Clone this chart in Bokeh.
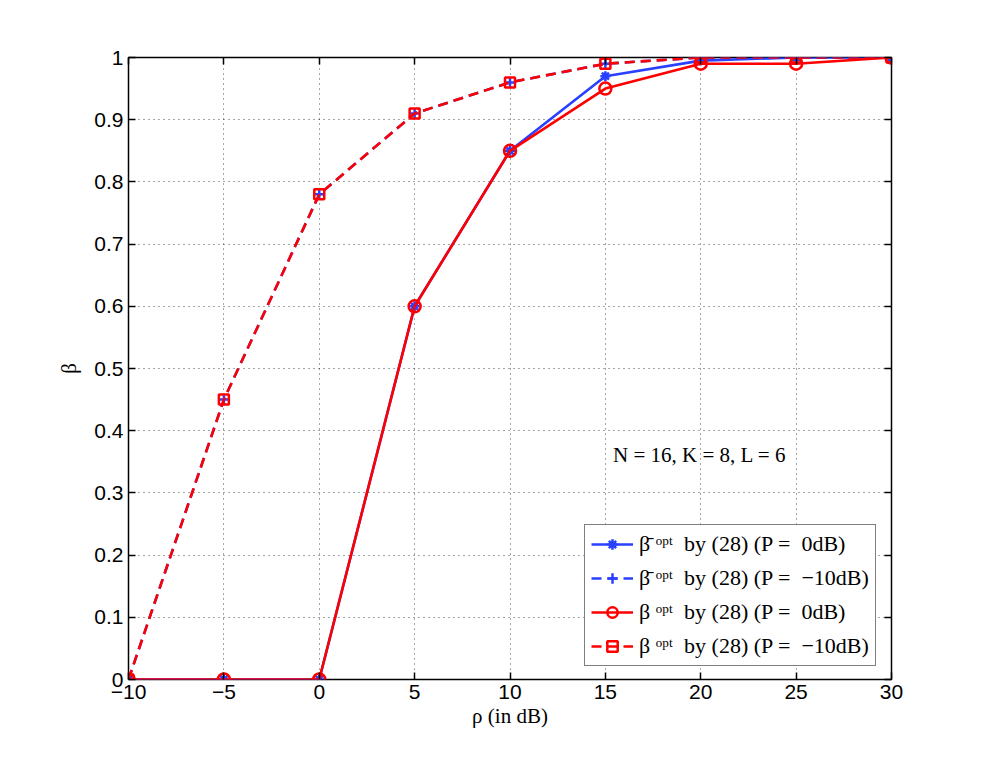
from bokeh.plotting import figure
from bokeh.models import (FixedTicker, LinearAxis, Legend, LegendItem, Label, Range1d)
from bokeh.embed import file_html
from bokeh.resources import INLINE

rho = [-10, -5, 0, 5, 10, 15, 20, 25, 30]
bar_beta_0dB = [0, 0, 0, 0.60, 0.85, 0.97, 0.995, 1.0, 1.0]
bar_beta_m10dB = [0, 0.45, 0.78, 0.91, 0.96, 0.99, 1.0, 1.0, 1.0]
beta_0dB = [0, 0, 0, 0.60, 0.85, 0.95, 0.99, 0.99, 1.0]
beta_m10dB = [0, 0.45, 0.78, 0.91, 0.96, 0.99, 1.0, 1.0, 1.0]

x_ticks = [-10, -5, 0, 5, 10, 15, 20, 25, 30]
x_tick_labels = {-10: "\u221210", -5: "\u22125", 0: "0", 5: "5", 10: "10",
                 15: "15", 20: "20", 25: "25", 30: "30"}
y_ticks = [0, 0.1, 0.2, 0.3, 0.4, 0.5, 0.6, 0.7, 0.8, 0.9, 1.0]
y_tick_labels = {0: "0", 0.1: "0.1", 0.2: "0.2", 0.3: "0.3", 0.4: "0.4", 0.5: "0.5",
                 0.6: "0.6", 0.7: "0.7", 0.8: "0.8", 0.9: "0.9", 1.0: "1"}

NB = "\u00a0"
SUP = "\u1d52\u1d56\u1d57"
legend_labels = [
    "\u03b2\u0304" + NB + SUP + NB + " by (28) (P =" + NB + NB + "0dB)",
    "\u03b2\u0304" + NB + SUP + NB + " by (28) (P =" + NB + NB + "\u221210dB)",
    "\u03b2" + NB + SUP + NB + " by (28) (P =" + NB + NB + "0dB)",
    "\u03b2" + NB + SUP + NB + " by (28) (P =" + NB + NB + "\u221210dB)",
]

BLUE = "#2a40ff"
RED = "#ff0000"
SANS = "Liberation Sans"
SERIF = "Liberation Serif"

p = figure(width=980, height=760, output_backend="svg", toolbar_location=None,
           x_range=Range1d(-10, 30), y_range=Range1d(0, 1),
           min_border_left=128, min_border_top=57, min_border_right=89, min_border_bottom=81)
p.background_fill_color = "white"
p.border_fill_color = "white"
p.outline_line_color = "black"
p.outline_line_width = 1.5

for ax in p.xaxis:
    ax.ticker = FixedTicker(ticks=x_ticks)
    ax.major_label_overrides = x_tick_labels
for ax in p.yaxis:
    ax.ticker = FixedTicker(ticks=y_ticks)
    ax.major_label_overrides = y_tick_labels

p.xaxis.axis_label = "\u03c1 (in dB)"
p.yaxis.axis_label = "\u03b2"
for ax in list(p.xaxis) + list(p.yaxis):
    ax.axis_line_color = None
    ax.major_tick_in = 7
    ax.major_tick_out = 0
    ax.major_tick_line_width = 1.5
    ax.minor_tick_line_color = None
    ax.major_label_text_font = SANS
    ax.major_label_text_font_size = "21px"
    ax.major_label_text_color = "black"
    ax.axis_label_text_font = SERIF
    ax.axis_label_text_font_size = "21px"
    ax.axis_label_text_font_style = "normal"
    ax.axis_label_text_color = "black"
p.xaxis.major_label_standoff = 5
p.xaxis.axis_label_standoff = 2
p.yaxis.major_label_standoff = 5
p.yaxis.axis_label_standoff = 10

# box-style ticks on top and right (no labels)
top = LinearAxis(ticker=FixedTicker(ticks=x_ticks), major_label_text_color=None,
                 axis_line_color=None, major_tick_in=7, major_tick_out=0,
                 major_tick_line_width=1.5, minor_tick_line_color=None)
right = LinearAxis(ticker=FixedTicker(ticks=y_ticks), major_label_text_color=None,
                   axis_line_color=None, major_tick_in=7, major_tick_out=0,
                   major_tick_line_width=1.5, minor_tick_line_color=None)
p.add_layout(top, "above")
p.add_layout(right, "right")

p.xgrid.ticker = FixedTicker(ticks=x_ticks)
p.ygrid.ticker = FixedTicker(ticks=y_ticks)
p.grid.grid_line_color = "black"
p.grid.grid_line_alpha = 0.7
p.grid.grid_line_dash = "1 4"
p.grid.grid_line_width = 1

LW = 2.6
l1 = p.line(rho, bar_beta_0dB, line_color=BLUE, line_width=LW)
m1 = p.scatter(rho, bar_beta_0dB, marker="asterisk", size=10, line_color=BLUE, line_width=2.5)
l2 = p.line(rho, bar_beta_m10dB, line_color=BLUE, line_width=LW, line_dash="10 6")
m2 = p.scatter(rho, bar_beta_m10dB, marker="cross", size=10, line_color=BLUE, line_width=2.5)
l3 = p.line(rho, beta_0dB, line_color=RED, line_width=LW)
m3 = p.scatter(rho, beta_0dB, marker="circle", size=12, line_color=RED, fill_color=None, line_width=2.5)
l4 = p.line(rho, beta_m10dB, line_color=RED, line_width=LW, line_dash="10 6")
m4 = p.scatter(rho, beta_m10dB, marker="square", size=10, line_color=RED, fill_color=None, line_width=2.5)

items = [LegendItem(label=legend_labels[0], renderers=[l1, m1]),
         LegendItem(label=legend_labels[1], renderers=[l2, m2]),
         LegendItem(label=legend_labels[2], renderers=[l3, m3]),
         LegendItem(label=legend_labels[3], renderers=[l4, m4])]
legend = Legend(items=items, location=(456, 13), glyph_width=42, glyph_height=26,
                label_height=26, spacing=8, padding=6, margin=0,
                label_text_font=SERIF, label_text_font_size="22px", label_text_color="black",
                border_line_color="black", border_line_width=1.5,
                background_fill_alpha=1.0, label_standoff=6)
p.add_layout(legend, "center")

p.add_layout(Label(x=15.4, y=0.361, text="N = 16, K = 8, L = 6", text_font=SERIF,
                   text_font_size="21px", text_baseline="middle", text_color="black"))

open("out.html", "w").write(file_html(p, INLINE))
